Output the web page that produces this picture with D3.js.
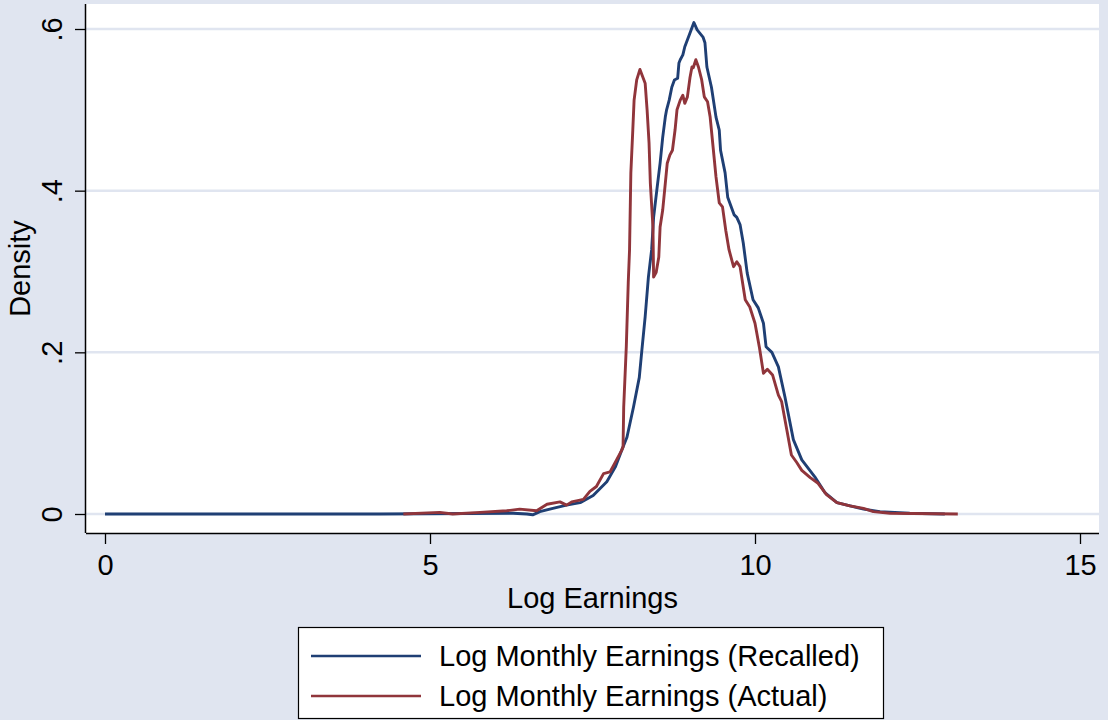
<!DOCTYPE html>
<html>
<head>
<meta charset="utf-8">
<script src="https://cdn.jsdelivr.net/npm/d3@7"></script>
<style>
html,body{margin:0;padding:0;background:#e0e5f0;}
svg{display:block;font-family:"Liberation Sans",Arial,Helvetica,sans-serif;}
</style>
</head>
<body>
<svg id="chart" width="1108" height="720"></svg>
<script>
// ---- data ----
const recalledX = [0, 4.23, 6.28, 6.49, 6.58, 6.69, 6.89, 7.10, 7.31, 7.51, 7.72, 7.85, 7.95, 8.03, 8.13, 8.22, 8.26, 8.31, 8.36, 8.41, 8.44, 8.49, 8.54, 8.58, 8.62, 8.64, 8.68, 8.72, 8.76, 8.81, 8.83, 8.85, 8.89, 8.92, 9.00, 9.06, 9.11, 9.20, 9.23, 9.26, 9.33, 9.40, 9.45, 9.47, 9.54, 9.58, 9.68, 9.72, 9.77, 9.82, 9.88, 9.97, 10.05, 10.13, 10.17, 10.26, 10.36, 10.46, 10.59, 10.72, 10.92, 11.08, 11.26, 11.67, 11.92, 12.38, 12.92];
const recalledY = [0, 0, 0.001, 0, -0.001, 0.003, 0.007, 0.011, 0.014, 0.023, 0.040, 0.058, 0.079, 0.095, 0.132, 0.169, 0.203, 0.244, 0.293, 0.327, 0.367, 0.401, 0.434, 0.466, 0.491, 0.500, 0.512, 0.528, 0.537, 0.539, 0.558, 0.562, 0.568, 0.578, 0.595, 0.608, 0.599, 0.590, 0.583, 0.553, 0.528, 0.491, 0.475, 0.450, 0.422, 0.392, 0.370, 0.367, 0.358, 0.335, 0.298, 0.265, 0.255, 0.236, 0.207, 0.200, 0.182, 0.145, 0.092, 0.067, 0.046, 0.026, 0.014, 0.006, 0.003, 0.001, 0];

const actualX = [4.59, 5.15, 5.35, 5.77, 6.18, 6.38, 6.64, 6.80, 7.00, 7.10, 7.18, 7.36, 7.46, 7.56, 7.67, 7.77, 7.87, 7.95, 7.97, 7.98, 8.02, 8.05, 8.07, 8.09, 8.12, 8.14, 8.18, 8.23, 8.31, 8.34, 8.37, 8.39, 8.43, 8.44, 8.48, 8.52, 8.54, 8.58, 8.62, 8.65, 8.69, 8.73, 8.77, 8.80, 8.85, 8.89, 8.92, 8.96, 9.00, 9.03, 9.05, 9.09, 9.13, 9.18, 9.22, 9.27, 9.31, 9.36, 9.40, 9.45, 9.50, 9.55, 9.60, 9.67, 9.72, 9.77, 9.85, 9.92, 10.00, 10.07, 10.13, 10.19, 10.27, 10.36, 10.41, 10.49, 10.56, 10.64, 10.72, 10.85, 10.97, 11.10, 11.26, 11.46, 11.67, 11.82, 12.08, 13.12];
const actualY = [0, 0.002, 0, 0.002, 0.004, 0.006, 0.004, 0.012, 0.015, 0.011, 0.015, 0.018, 0.028, 0.034, 0.050, 0.052, 0.067, 0.079, 0.083, 0.132, 0.207, 0.286, 0.327, 0.422, 0.475, 0.512, 0.537, 0.550, 0.533, 0.500, 0.459, 0.409, 0.355, 0.293, 0.299, 0.318, 0.355, 0.376, 0.409, 0.434, 0.444, 0.450, 0.475, 0.500, 0.512, 0.518, 0.508, 0.516, 0.540, 0.553, 0.552, 0.562, 0.553, 0.537, 0.516, 0.510, 0.491, 0.450, 0.417, 0.385, 0.380, 0.351, 0.327, 0.306, 0.312, 0.306, 0.265, 0.256, 0.236, 0.205, 0.174, 0.179, 0.172, 0.147, 0.139, 0.104, 0.073, 0.064, 0.054, 0.045, 0.038, 0.024, 0.014, 0.010, 0.007, 0.003, 0.001, 0];

const xTicks = [0, 5, 10, 15];
const yTicks = [0, 0.2, 0.4, 0.6];
const yTickLabels = ["0", ".2", ".4", ".6"];
const seriesNames = ["Log Monthly Earnings (Recalled)", "Log Monthly Earnings (Actual)"];
const seriesColors = ["#1f3f74", "#90353b"];
const xTitle = "Log Earnings";
const yTitle = "Density";

// ---- layout ----
const svg = d3.select("#chart");
const W = 1108, H = 720;
const plot = {left: 86, right: 1099, top: 4, bottom: 533};
const bg = "#e0e5f0";
const FS = 29;

svg.append("rect").attr("width", W).attr("height", H).attr("fill", bg);
svg.append("rect").attr("x", plot.left).attr("y", plot.top)
  .attr("width", plot.right - plot.left).attr("height", plot.bottom - plot.top).attr("fill", "#fff");

const x = d3.scaleLinear().domain([0, 15]).range([105, 1080]);
const y = d3.scaleLinear().domain([0, 0.6]).range([514, 29]);

// gridlines
svg.append("g").selectAll("line").data(yTicks).join("line")
  .attr("x1", plot.left).attr("x2", plot.right)
  .attr("y1", d => y(d)).attr("y2", d => y(d))
  .attr("stroke", bg).attr("stroke-width", 2.5);

// series
const line = d3.line().x(d => x(d[0])).y(d => y(d[1]));
const series = [
  d3.zip(recalledX, recalledY),
  d3.zip(actualX, actualY)
];
series.forEach((s, i) => {
  svg.append("path").datum(s).attr("d", line)
    .attr("fill", "none").attr("stroke", seriesColors[i])
    .attr("stroke-width", 2.9).attr("stroke-linejoin", "round");
});

// axes
const xAxis = d3.axisBottom(x).tickValues(xTicks).tickSize(11).tickPadding(10).tickFormat(d3.format("d"));
const gx = svg.append("g").attr("transform", `translate(0,${plot.bottom})`).call(xAxis);
gx.select(".domain").attr("d", `M${plot.left},0.5H${plot.right}`).attr("stroke", "#000").attr("stroke-width", 1.5);
gx.selectAll(".tick line").attr("stroke", "#000").attr("stroke-width", 1.3);
gx.selectAll(".tick text").attr("font-size", FS).attr("fill", "#000")
  .attr("font-family", "Liberation Sans, Arial, sans-serif");

const yAxis = d3.axisLeft(y).tickValues(yTicks).tickSize(11).tickFormat((d, i) => yTickLabels[i]);
const gy = svg.append("g").attr("transform", `translate(${plot.left},0)`).call(yAxis);
gy.select(".domain").attr("d", `M-0.5,${plot.top}V${plot.bottom}`).attr("stroke", "#000").attr("stroke-width", 1.5);
gy.selectAll(".tick line").attr("stroke", "#000").attr("stroke-width", 1.3);
gy.selectAll(".tick text")
  .attr("font-size", FS).attr("fill", "#000")
  .attr("font-family", "Liberation Sans, Arial, sans-serif")
  .attr("x", null).attr("dy", null)
  .attr("text-anchor", "middle")
  .attr("transform", "translate(-24,0) rotate(-90)");

// titles
svg.append("text").attr("x", x(7.5)).attr("y", 608).attr("text-anchor", "middle")
  .attr("font-size", FS).attr("fill", "#000").text(xTitle);
svg.append("text").attr("transform", `translate(30,${(plot.top + plot.bottom) / 2}) rotate(-90)`)
  .attr("text-anchor", "middle").attr("font-size", FS).attr("fill", "#000").text(yTitle);

// legend
const lg = svg.append("g");
lg.append("rect").attr("x", 298.5).attr("y", 627.5).attr("width", 585).attr("height", 91)
  .attr("fill", "#fff").attr("stroke", "#000").attr("stroke-width", 1.2);
seriesNames.forEach((n, i) => {
  const cy = 656 + i * 40;
  lg.append("line").attr("x1", 311).attr("x2", 421).attr("y1", cy).attr("y2", cy)
    .attr("stroke", seriesColors[i]).attr("stroke-width", 2.6);
  lg.append("text").attr("x", 439).attr("y", cy + 10).attr("font-size", FS).attr("fill", "#000").text(n);
});
</script>
</body>
</html>
